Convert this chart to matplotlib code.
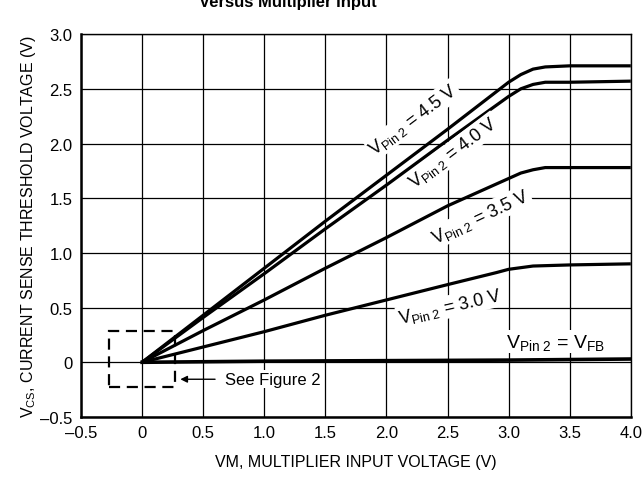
import matplotlib
matplotlib.use("Agg")
import matplotlib.pyplot as plt
from matplotlib.patches import Rectangle

plt.rcParams['font.family'] = ['Liberation Sans', 'DejaVu Sans']
plt.rcParams['mathtext.fontset'] = 'custom'
plt.rcParams['mathtext.rm'] = 'Liberation Sans'
plt.rcParams['mathtext.it'] = 'Liberation Sans'

# curves
x_45 = [0, 0.5, 1.0, 1.5, 2.0, 2.5, 3.0, 3.1, 3.2, 3.3, 3.5, 4.0]
y_45 = [0, 0.43, 0.86, 1.29, 1.71, 2.13, 2.56, 2.63, 2.68, 2.70, 2.71, 2.71]
x_40 = [0, 0.5, 1.0, 1.5, 2.0, 2.5, 3.0, 3.1, 3.2, 3.3, 3.5, 4.0]
y_40 = [0, 0.41, 0.81, 1.22, 1.62, 2.03, 2.43, 2.50, 2.54, 2.56, 2.56, 2.57]
x_35 = [0, 0.5, 1.0, 1.5, 2.0, 2.5, 3.0, 3.1, 3.2, 3.3, 3.4, 4.0]
y_35 = [0, 0.29, 0.57, 0.86, 1.14, 1.43, 1.68, 1.73, 1.76, 1.78, 1.78, 1.78]
x_30 = [0, 0.5, 1.0, 1.5, 2.0, 2.5, 2.9, 3.0, 3.2, 3.5, 4.0]
y_30 = [0, 0.14, 0.28, 0.43, 0.57, 0.71, 0.82, 0.85, 0.88, 0.89, 0.90]
x_fb = [0, 1.0, 2.0, 3.0, 4.0]
y_fb = [0, 0.01, 0.015, 0.02, 0.03]

xticks = [-0.5, 0, 0.5, 1.0, 1.5, 2.0, 2.5, 3.0, 3.5, 4.0]
xtick_labels = ['\u20130.5', '0', '0.5', '1.0', '1.5', '2.0', '2.5', '3.0', '3.5', '4.0']
yticks = [-0.5, 0, 0.5, 1.0, 1.5, 2.0, 2.5, 3.0]
ytick_labels = ['\u20130.5', '0', '0.5', '1.0', '1.5', '2.0', '2.5', '3.0']

fig = plt.figure(figsize=(6.43, 4.81), dpi=100)
ax = fig.add_axes([0.126, 0.131, 0.855, 0.796])

for xs, ys in [(x_45, y_45), (x_40, y_40), (x_35, y_35), (x_30, y_30)]:
    ax.plot(xs, ys, color='black', lw=2.3, solid_capstyle='butt', zorder=3)
ax.plot(x_fb, y_fb, color='black', lw=2.6, zorder=3)

ax.set_xlim(-0.5, 4.0)
ax.set_ylim(-0.5, 3.0)
ax.set_xticks(xticks)
ax.set_xticklabels(xtick_labels)
ax.set_yticks(yticks)
ax.set_yticklabels(ytick_labels)
ax.tick_params(length=0, labelsize=12, pad=6)
ax.grid(True, color='black', lw=0.9)
ax.set_axisbelow(True)
for s in ax.spines.values():
    s.set_linewidth(1.0)
ax.spines['left'].set_linewidth(1.8)
ax.spines['bottom'].set_linewidth(1.8)

ax.set_xlabel('VM, MULTIPLIER INPUT VOLTAGE (V)', fontsize=11.5, labelpad=10)
ax.set_ylabel(r'V$_{\mathregular{CS}}$, CURRENT SENSE THRESHOLD VOLTAGE (V)', fontsize=11.5, labelpad=2)

fig.text(0.447, 0.995, 'Versus Multiplier Input', ha='center', va='center',
         fontsize=12, fontweight='bold')

box = dict(facecolor='white', edgecolor='none', pad=1)
lab = r'V$_{\mathregular{Pin\ 2}}$ = '
ax.text(2.22, 2.22, lab + '4.5 V', rotation=37, ha='center', va='center', fontsize=13, bbox=box, zorder=4)
ax.text(2.55, 1.92, lab + '4.0 V', rotation=37, ha='center', va='center', fontsize=13, bbox=box, zorder=4)
ax.text(2.77, 1.33, lab + '3.5 V', rotation=25, ha='center', va='center', fontsize=13, bbox=box, zorder=4)
ax.text(2.52, 0.51, lab + '3.0 V', rotation=13, ha='center', va='center', fontsize=13, bbox=box, zorder=4)
ax.text(3.38, 0.19, r'V$_{\mathregular{Pin\ 2}}$ = V$_{\mathregular{FB}}$', ha='center', va='center',
        fontsize=14, bbox=box, zorder=4)

ax.add_patch(Rectangle((-0.27, -0.23), 0.54, 0.52, fill=False, ls=(0, (5, 3)),
                       lw=1.6, color='black', zorder=4))
ax.annotate('', xy=(0.29, -0.155), xytext=(0.62, -0.155),
            arrowprops=dict(arrowstyle='-|>', color='black', lw=1.0), zorder=4)
ax.text(0.68, -0.155, 'See Figure 2', ha='left', va='center', fontsize=12, bbox=box, zorder=4)

fig.savefig('out.png', dpi=100)
